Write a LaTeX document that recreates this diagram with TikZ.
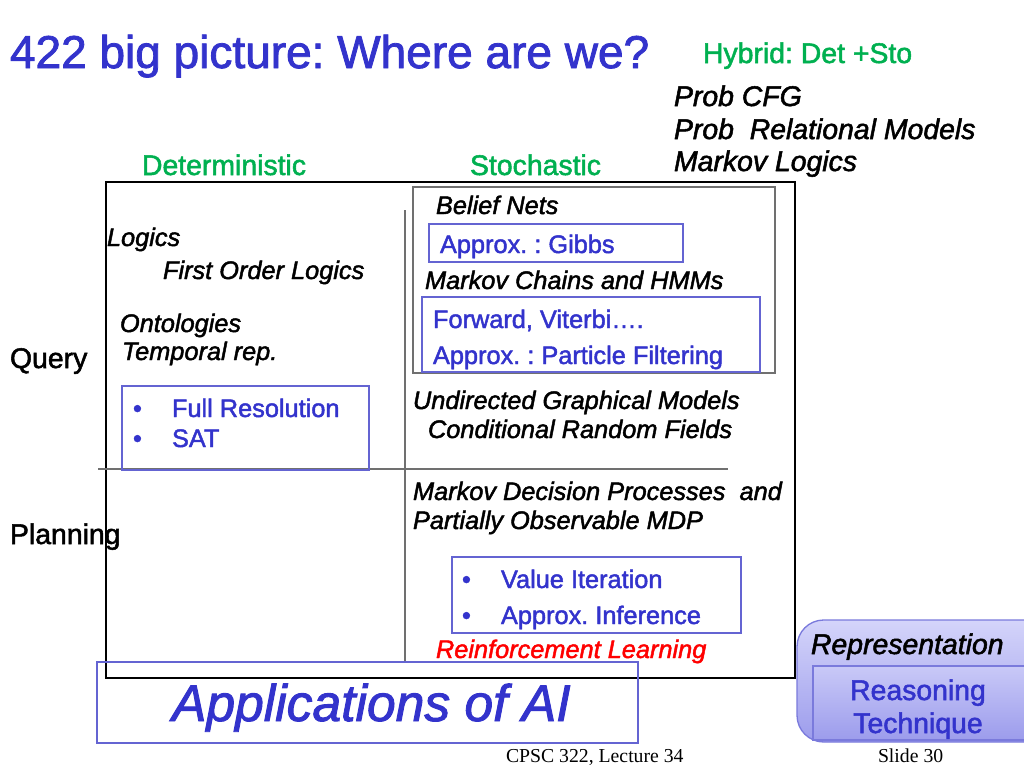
\documentclass[tikz,border=0pt]{standalone}
\usepackage{fontspec}
\setmainfont{Liberation Sans}[RawFeature={embolden=1.8}]
\newfontfamily\timesf{Liberation Serif}
\definecolor{tblue}{HTML}{3333CC}
\definecolor{tgreen}{HTML}{00B050}
\definecolor{bblue}{HTML}{6464D2}
\definecolor{tred}{HTML}{FF0000}
\definecolor{lgray}{HTML}{707070}
\definecolor{reptop}{HTML}{D4D4FA}
\definecolor{repbot}{HTML}{9C9CEC}
\definecolor{repedge}{HTML}{7A7ADC}
\frenchspacing
\begin{document}
\begin{tikzpicture}[x=0.75pt,y=-0.75pt,
 txt/.style={anchor=base west, inner sep=0pt, outer sep=0pt},
 ctxt/.style={anchor=base, inner sep=0pt, outer sep=0pt},
 big/.style={font=\fontsize{34.5}{40}\selectfont},
 med/.style={font=\fontsize{21.3}{25}\selectfont},
 medi/.style={font=\fontsize{21.3}{25}\selectfont\itshape},
 sml/.style={font=\fontsize{19}{23}\selectfont},
 smli/.style={font=\fontsize{19}{23}\selectfont\itshape},
 huge/.style={font=\fontsize{38.7}{44}\selectfont\itshape},
 foot/.style={font=\fontsize{14.8}{18}\selectfont\timesf},
 bluebox/.style={draw=bblue, line width=0.9pt},
 graybox/.style={draw=lgray, line width=0.9pt},
 divider/.style={draw=lgray, line width=0.9pt},
]
\useasboundingbox (0,0) rectangle (1024,768);

% frames
\draw[black, line width=0.8pt] (106,182) rectangle (795,678);
\coordinate (vtop) at (405,210);
\coordinate (vbot) at (405,662);
\coordinate (hl) at (98,469);
\coordinate (hr) at (728,469);
\draw[divider] (vtop) -- (vbot);
\draw[divider] (hl) -- (hr);

\draw[graybox] (413,187) rectangle (775,373);
\draw[bluebox] (429,224) rectangle (683,262);
\draw[bluebox] (422,297) rectangle (760,372);
\draw[bluebox] (122,386) rectangle (369,470);
\draw[bluebox] (452,557) rectangle (741,633);
\draw[bluebox] (97,662) rectangle (638,743);

% representation box
\begin{scope}
\clip (0,0) rectangle (1024,768);
\draw[repedge, line width=1pt, rounded corners=20, top color=reptop, bottom color=repbot] (797,620) rectangle (1060,742);
\draw[repedge, line width=1pt, top color=reptop!80!repbot, bottom color=repbot] (813,666) rectangle (1060,740);
\end{scope}

% texts
\node[txt, big, text=tblue] (title) at (10,68) {422 big picture: Where are we?};
\node[txt, med, text=tgreen] (hybrid) at (703,63) {Hybrid: Det +Sto};
\node[txt, medi] (pcfg) at (674,106) {Prob CFG};
\node[txt, medi] (prm) at (674,139) {Prob\ \ Relational Models};
\node[txt, medi] (mlog) at (674,171) {Markov Logics};
\node[txt, med, text=tgreen] (det) at (142,175) {Deterministic};
\node[txt, med, text=tgreen] (sto) at (470,175) {Stochastic};

\node[txt, smli] (bn) at (436,214) {Belief Nets};
\node[txt, sml, text=tblue] (gibbs) at (440,253) {Approx. : Gibbs};
\node[txt, smli] (mc) at (425,289) {Markov Chains and HMMs};
\node[txt, sml, text=tblue] (fwd) at (433,328) {Forward, Viterbi….};
\node[txt, sml, text=tblue] (pf) at (433,364) {Approx. : Particle Filtering};

\node[txt, smli] (logics) at (107,246) {Logics};
\node[txt, smli] (fol) at (163,279) {First Order Logics};
\node[txt, smli] (onto) at (120,332) {Ontologies};
\node[txt, smli] (temp) at (122,360) {Temporal rep.};
\node[txt, med] (query) at (10,368) {Query};

\node[txt, sml, text=tblue] (b1) at (133,417) {•};
\node[txt, sml, text=tblue] (fr) at (172,417) {Full Resolution};
\node[txt, sml, text=tblue] (b2) at (133,447) {•};
\node[txt, sml, text=tblue] (sat) at (172,447) {SAT};

\node[txt, smli] (ugm) at (413,409) {Undirected Graphical Models};
\node[txt, smli] (crf) at (428,438) {Conditional Random Fields};
\node[txt, smli] (mdp) at (413,500) {Markov Decision Processes\ \ and};
\node[txt, smli] (pomdp) at (413,529) {Partially Observable MDP};
\node[txt, med] (plan) at (10,544) {Planning};

\node[txt, sml, text=tblue] (b3) at (462,588) {•};
\node[txt, sml, text=tblue] (vi) at (501,588) {Value Iteration};
\node[txt, sml, text=tblue] (b4) at (462,624) {•};
\node[txt, sml, text=tblue] (ai) at (501,624) {Approx. Inference};
\node[txt, smli, text=tred] (rl) at (436,658) {Reinforcement Learning};

\node[txt, huge, text=tblue] (apps) at (172,721) {Applications of AI};

\node[txt, medi] (rep) at (811,654) {Representation};
\node[ctxt, med, text=tblue] (reas) at (918,700) {Reasoning};
\node[ctxt, med, text=tblue] (tech) at (918,733) {Technique};

\node[txt, foot] (cpsc) at (506,762) {CPSC 322, Lecture 34};
\node[txt, foot] (slide) at (878,762) {Slide 30};
\end{tikzpicture}
\end{document}
